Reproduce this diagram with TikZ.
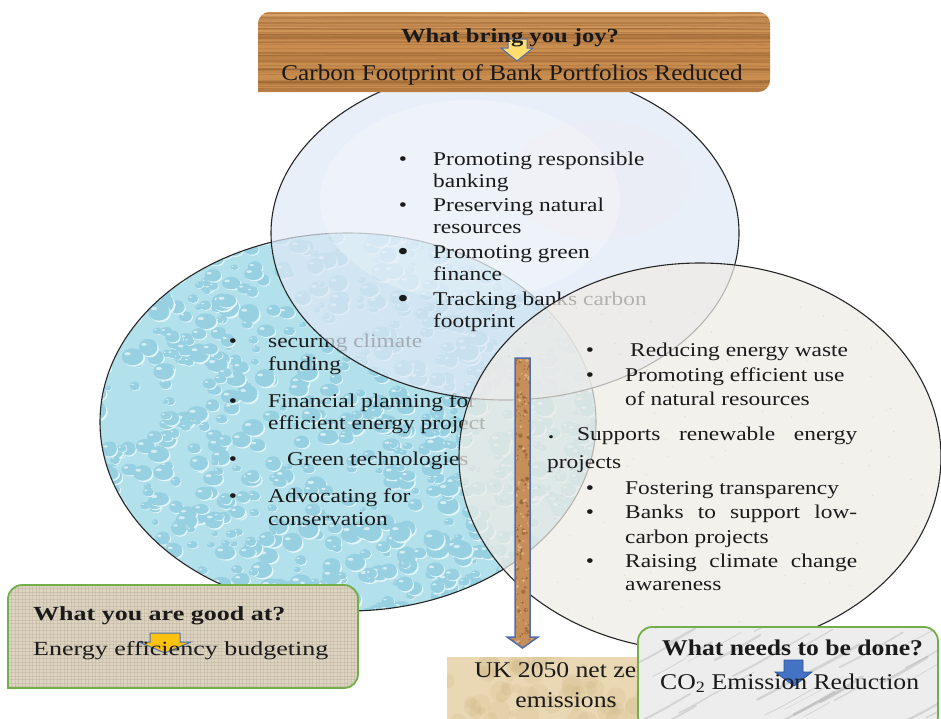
\documentclass[tikz,border=0pt]{standalone}
\usepackage{fontspec}
\setmainfont{Liberation Serif}
\newfontfamily\bodyfont{Liberation Serif}[FakeStretch=1.2]
\newfontfamily\joyfont{Liberation Serif}[FakeStretch=1.23]
\newfontfamily\carbfont{Liberation Serif}[FakeStretch=1.12]
\newfontfamily\goodfont{Liberation Serif}[FakeStretch=1.3]
\newfontfamily\needfont{Liberation Serif}[FakeStretch=1.14]
\usetikzlibrary{calc}

\definecolor{ink}{HTML}{1A1A1A}
\definecolor{rim}{HTML}{262626}
\definecolor{waterC}{HTML}{B2E0EB}
\definecolor{waterL}{HTML}{E2F5F9}
\definecolor{waterD}{HTML}{96D0E1}
\definecolor{mistC}{HTML}{DFE9F6}
\definecolor{paperC}{HTML}{EFECE6}
\definecolor{woodC}{HTML}{C98D50}
\definecolor{woodD}{HTML}{95602F}
\definecolor{woodL}{HTML}{DFAA6E}
\definecolor{burlapC}{HTML}{DCD3C1}
\definecolor{burlapD}{HTML}{B5AA93}
\definecolor{marbleC}{HTML}{EDEDED}
\definecolor{marbleD}{HTML}{9C9C9C}
\definecolor{tanC}{HTML}{EAD8B4}
\definecolor{tanD}{HTML}{CDB27F}
\definecolor{corkC}{HTML}{C68E58}
\definecolor{corkD}{HTML}{87572C}
\definecolor{corkL}{HTML}{E4BC8C}
\definecolor{leaf}{HTML}{72AE4A}
\definecolor{steel}{HTML}{4F6EAE}
\definecolor{sunY}{HTML}{FFDD6E}
\definecolor{amber}{HTML}{FFC20E}
\definecolor{royal}{HTML}{4472C4}
\definecolor{royalD}{HTML}{2F5597}

\tikzset{
  rimline/.style={draw=rim, line width=1.1pt},
  bodytext/.style={font=\bodyfont\fontsize{19.5}{22}\selectfont, text=ink,
    inner sep=0pt, anchor=base west},
  dot/.style={font=\bodyfont\fontsize{19.5}{22}\selectfont, text=ink,
    inner sep=0pt, anchor=base},
  bigdot/.style={font=\bodyfont\fontsize{27}{27}\selectfont, text=ink,
    inner sep=0pt, anchor=base},
  tinydot/.style={font=\bodyfont\fontsize{13}{13}\selectfont, text=ink,
    inner sep=0pt, anchor=base},
  headtext/.style={text=ink, inner sep=0pt, anchor=base west},
  greenframe/.style={draw=leaf, line width=1.8pt},
}

\begin{document}
\begin{tikzpicture}[x=1pt,y=-1pt]
\useasboundingbox (0,0) rectangle (941,718);
\clip (0,0) rectangle (941,718);
\fill[white] (0,0) rectangle (941,718);
\pgfmathsetseed{17}

% ---------- left ellipse: water drops ----------
\begin{scope}
  \clip (348,422) ellipse [x radius=248, y radius=189];
  \fill[waterC] (348,422) ellipse [x radius=260, y radius=200];
  \foreach \i in {1,...,900}{
    \pgfmathsetmacro\px{95+510*rnd}
    \pgfmathsetmacro\py{228+392*rnd}
    \pgfmathsetmacro\pr{3+8*rnd}
    \pgfmathsetmacro\pq{(0.65+0.3*rnd)*\pr}
    \pgfmathsetmacro\ph{0.3*\pr}
    \fill[waterL] (\px+0.15*\pr,\py+0.18*\pq) ellipse [x radius=\pr, y radius=\pq];
    \fill[waterD] (\px,\py) ellipse [x radius=\pr, y radius=\pq];
    \fill[white, opacity=0.6] (\px-0.45*\pr,\py-0.35*\pq) ellipse [x radius=\ph, y radius=0.5*\ph];
  }
\end{scope}
\draw[rimline] (348,422) ellipse [x radius=248, y radius=189];

\node[dot] (lb1) at (233,347) {\textbullet};
\node[bodytext] (l1) at (268,347) {securing climate};
\node[bodytext] (l2) at (268,370) {funding};
\node[dot] (lb2) at (233,407) {\textbullet};
\node[bodytext] (l3) at (268,407) {Financial planning for};
\node[bodytext] (l4) at (268,429) {efficient energy project};
\node[dot] (lb3) at (233,465) {\textbullet};
\node[bodytext] (l5) at (287,465) {Green technologies};
\node[dot] (lb4) at (233,502) {\textbullet};
\node[bodytext] (l6) at (268,502) {Advocating for};
\node[bodytext] (l7) at (268,525) {conservation};

% ---------- top ellipse: pale mist ----------
\fill[mistC, fill opacity=0.7] (505,233) ellipse [x radius=234, y radius=167];
\begin{scope}
  \clip (505,233) ellipse [x radius=234, y radius=167];
  \fill[white, opacity=0.25] (470,200) ellipse [x radius=150, y radius=100];
  \fill[pink!40, opacity=0.12] (600,180) ellipse [x radius=90, y radius=60];
\end{scope}
\draw[rimline] (505,233) ellipse [x radius=234, y radius=167];

\node[dot] (tb1) at (403,165) {\textbullet};
\node[bodytext] (t1) at (433,165) {Promoting responsible};
\node[bodytext] (t2) at (433,187) {banking};
\node[dot] (tb2) at (403,211) {\textbullet};
\node[bodytext] (t3) at (433,211) {Preserving natural};
\node[bodytext] (t4) at (433,233) {resources};
\node[bigdot] (tb3) at (403,260) {\textbullet};
\node[bodytext] (t5) at (433,258) {Promoting green};
\node[bodytext] (t6) at (433,280) {finance};
\node[bigdot] (tb4) at (403,307) {\textbullet};
\node[bodytext] (t7) at (433,305) {Tracking banks carbon};
\node[bodytext] (t8) at (433,327) {footprint};

% ---------- right ellipse: paper ----------
\fill[paperC, fill opacity=0.72] (700,457) ellipse [x radius=241, y radius=194];
\begin{scope}
  \clip (700,457) ellipse [x radius=241, y radius=194];
  \foreach \i in {1,...,160}{
    \pgfmathsetmacro\px{460+480*rnd}
    \pgfmathsetmacro\py{262+390*rnd}
    \fill[gray, opacity=0.18] (\px,\py) circle [radius=0.7];
  }
\end{scope}
\draw[rimline] (700,457) ellipse [x radius=241, y radius=194];

\node[dot] (rb1) at (590,356) {\textbullet};
\node[bodytext] (r1) at (630,356) {Reducing energy waste};
\node[dot] (rb2) at (590,381) {\textbullet};
\node[bodytext] (r2) at (625,381) {Promoting efficient use};
\node[bodytext] (r3) at (625,405) {of natural resources};
\node[tinydot] (rb3) at (551,441) {\textbullet};
\node[bodytext] (r4) at (577,440) {\makebox[280pt][s]{Supports renewable energy}};
\node[bodytext] (r5) at (547,468) {projects};
\node[dot] (rb4) at (590,494) {\textbullet};
\node[bodytext] (r6) at (625,494) {Fostering transparency};
\node[dot] (rb5) at (590,518) {\textbullet};
\node[bodytext] (r7) at (625,518) {\makebox[232pt][s]{Banks to support low-}};
\node[bodytext] (r8) at (625,543) {carbon projects};
\node[dot] (rb6) at (590,567) {\textbullet};
\node[bodytext] (r9) at (625,567) {\makebox[232pt][s]{Raising climate change}};
\node[bodytext] (r10) at (625,590) {awareness};

% ---------- central cork arrow ----------
\coordinate (shafttop) at (522.5,358);
\coordinate (shafttip) at (522.5,648);
\path[fill=corkC] ($(shafttop)+(-7.5,0)$) -- ($(shafttop)+(7.5,0)$)
  -- ($(shafttip)+(7.5,-11)$) -- ($(shafttip)+(15.5,-11)$) -- (shafttip)
  -- ($(shafttip)+(-15.5,-11)$) -- ($(shafttip)+(-7.5,-11)$) -- cycle;
\begin{scope}
  \clip ($(shafttop)+(-7.5,0)$) -- ($(shafttop)+(7.5,0)$)
  -- ($(shafttip)+(7.5,-11)$) -- ($(shafttip)+(15.5,-11)$) -- (shafttip)
  -- ($(shafttip)+(-15.5,-11)$) -- ($(shafttip)+(-7.5,-11)$) -- cycle;
  \foreach \i in {1,...,260}{
    \pgfmathsetmacro\px{506+33*rnd}
    \pgfmathsetmacro\py{358+290*rnd}
    \pgfmathsetmacro\pr{0.6+1.6*rnd}
    \fill[corkD, opacity=0.55] (\px,\py) circle [radius=\pr];
  }
  \foreach \i in {1,...,180}{
    \pgfmathsetmacro\px{506+33*rnd}
    \pgfmathsetmacro\py{358+290*rnd}
    \pgfmathsetmacro\pr{0.5+1.3*rnd}
    \fill[corkL, opacity=0.8] (\px,\py) circle [radius=\pr];
  }
\end{scope}
\draw[steel, line width=1.5pt, line join=miter] ($(shafttop)+(-7.5,0)$) -- ($(shafttop)+(7.5,0)$)
  -- ($(shafttip)+(7.5,-11)$) -- ($(shafttip)+(15.5,-11)$) -- (shafttip)
  -- ($(shafttip)+(-15.5,-11)$) -- ($(shafttip)+(-7.5,-11)$) -- cycle;

% ---------- top wooden banner ----------
\fill[woodC] (258,92) [rounded corners=12] -- (258,12) -- (770,12) -- (770,92) [sharp corners] -- cycle;
\begin{scope}
  \clip (258,92) [rounded corners=12] -- (258,12) -- (770,12) -- (770,92) [sharp corners] -- cycle;
  \shade[top color=woodL, bottom color=woodC, opacity=0.8] (258,12) rectangle (770,40);
  \foreach \i in {1,...,70}{
    \pgfmathsetmacro\py{12+80*rnd}
    \pgfmathsetmacro\pw{0.3+1.2*rnd}
    \pgfmathsetmacro\pd{4*rnd-2}
    \draw[woodD, opacity=0.35, line width=\pw] (258,\py) .. controls (450,\py+\pd) and (600,\py-\pd) .. (770,\py+0.5*\pd);
  }
  \fill[woodD, opacity=0.25] (258,88) rectangle (770,92);
\end{scope}
% small down arrow under the question
\fill[sunY, draw=steel, line width=1pt] (508,39) -- (527,39) -- (527,48) -- (533,48)
  -- (517,61) -- (501,48) -- (508,48) -- cycle;
\node[headtext, font=\joyfont\bfseries\fontsize{20}{20}\selectfont, anchor=base] (joy) at (510,42) {What bring you joy?};
\node[headtext, font=\carbfont\fontsize{22.5}{22.5}\selectfont, anchor=base] (carbon) at (512,80) {Carbon Footprint of Bank Portfolios Reduced};

% ---------- bottom-left burlap box ----------
\fill[burlapC] (8,688) [rounded corners=14] -- (8,585) -- (358,585) -- (358,688) [sharp corners] -- cycle;
\begin{scope}
  \clip (8,688) [rounded corners=14] -- (8,585) -- (358,585) -- (358,688) [sharp corners] -- cycle;
  \foreach \x in {8,11.5,...,358}{
    \draw[burlapD, opacity=0.35, line width=0.6pt] (\x,585) -- (\x,688);
  }
  \foreach \y in {585,588.5,...,688}{
    \draw[burlapD, opacity=0.35, line width=0.6pt] (8,\y) -- (358,\y);
  }
\end{scope}
\draw[greenframe] (8,688) [rounded corners=14] -- (8,585) -- (358,585) -- (358,688) [sharp corners] -- cycle;
\fill[amber, draw=steel, line width=1pt] (150,633) -- (180,633) -- (180,642) -- (191,642)
  -- (165,653) -- (139,642) -- (150,642) -- cycle;
\node[headtext, font=\goodfont\bfseries\fontsize{20}{20}\selectfont] (good) at (33,620) {What you are good at?};
\node[headtext, font=\goodfont\fontsize{20}{20}\selectfont] (budget) at (33,655) {Energy efficiency budgeting};

% ---------- bottom-centre goal box ----------
\fill[tanC] (447,657) rectangle (686,725);
\begin{scope}
  \clip (447,657) rectangle (686,725);
  \foreach \i in {1,...,60}{
    \pgfmathsetmacro\px{447+240*rnd}
    \pgfmathsetmacro\py{657+68*rnd}
    \pgfmathsetmacro\pr{3+9*rnd}
    \fill[tanD, opacity=0.18] (\px,\py) circle [radius=\pr];
  }
\end{scope}
\node[font=\needfont\fontsize{22.5}{22.5}\selectfont, text=ink, inner sep=0pt, anchor=base] (uk1) at (566,677) {UK 2050 net zero};
\node[font=\needfont\fontsize{22.5}{22.5}\selectfont, text=ink, inner sep=0pt, anchor=base] (uk2) at (566,707) {emissions};

% ---------- bottom-right marble box ----------
\fill[marbleC, rounded corners=14] (638,627) rectangle (938,730);
\begin{scope}
  \clip[rounded corners=14] (638,627) rectangle (938,730);
  \foreach \i in {1,...,40}{
    \pgfmathsetmacro\px{620+330*rnd}
    \pgfmathsetmacro\py{620+110*rnd}
    \pgfmathsetmacro\pl{20+50*rnd}
    \pgfmathsetmacro\pw{0.5+2.5*rnd}
    \draw[marbleD, opacity=0.3, line width=\pw, line cap=round] (\px,\py) .. controls (\px+0.4*\pl,\py-0.2*\pl) .. (\px+\pl,\py-0.55*\pl);
  }
\end{scope}
\draw[greenframe, rounded corners=14] (638,627) rectangle (938,730);
\fill[royal, draw=royalD, line width=0.8pt] (784,660) -- (803,660) -- (803,672) -- (812,672)
  -- (794,686) -- (775,672) -- (784,672) -- cycle;
\node[headtext, font=\needfont\bfseries\fontsize{22.5}{22.5}\selectfont] (need) at (662,655) {What needs to be done?};
\node[headtext, font=\needfont\fontsize{22.5}{22.5}\selectfont] (co2) at (660,689) {CO\textsubscript{2} Emission Reduction};

\end{tikzpicture}
\end{document}
